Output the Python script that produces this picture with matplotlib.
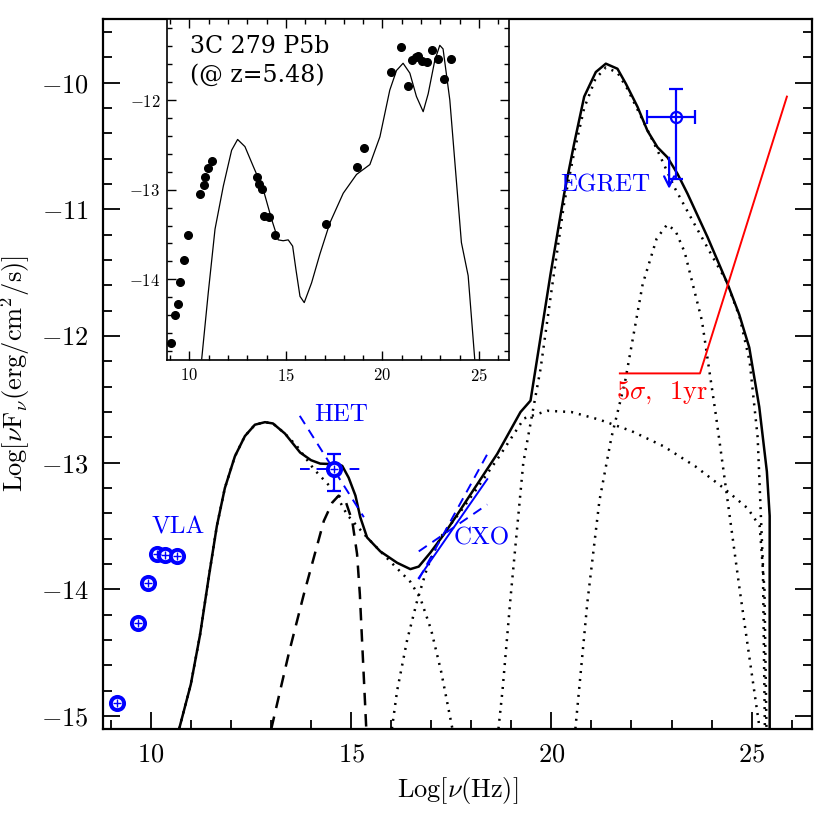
import numpy as np
import matplotlib
matplotlib.use("Agg")
import matplotlib.pyplot as plt
from matplotlib.ticker import MultipleLocator

plt.rcParams['font.family'] = 'serif'
plt.rcParams['font.serif'] = ['cmr10', 'DejaVu Serif']
plt.rcParams['mathtext.fontset'] = 'cm'
plt.rcParams['axes.formatter.use_mathtext'] = True
plt.rcParams['axes.unicode_minus'] = True

# ---- main panel: model curves (log nu, log nuFnu) ----
total_x = [10.71, 11.0, 11.23, 11.45, 11.65, 11.85, 12.1, 12.35, 12.6, 12.85, 13.05, 13.35, 13.73,
           14.0, 14.23, 14.45, 14.61, 14.78, 14.94, 15.11, 15.23, 15.40, 15.73, 16.15, 16.48, 16.69,
           16.98, 17.32, 17.65, 18.15, 18.65, 19.23, 19.48, 19.73, 19.98, 20.32, 20.57, 20.82,
           21.11, 21.36, 21.65, 21.86, 22.15, 22.40, 22.65, 22.90, 23.15, 23.40, 23.90, 24.40,
           24.69, 24.94, 25.19, 25.38, 25.45, 25.45]
total_y = [-15.1, -14.75, -14.36, -13.9, -13.5, -13.2, -12.95, -12.79, -12.7, -12.68, -12.69, -12.77,
           -12.92, -12.98, -13.007, -13.01, -13.004, -13.025, -13.118, -13.26, -13.43, -13.59, -13.70,
           -13.79, -13.84, -13.82, -13.71, -13.565, -13.41, -13.17, -12.93, -12.60, -12.51, -12.011,
           -11.51, -10.877, -10.48, -10.11, -9.916, -9.85, -9.89, -10.008, -10.19, -10.38, -10.51,
           -10.59, -10.72, -10.877, -11.22, -11.59, -11.83, -12.09, -12.56, -13.07, -13.42, -15.1]

sync_x = [10.71, 11.0, 11.23, 11.45, 11.65, 11.85, 12.1, 12.35, 12.6, 12.85, 13.05, 13.35, 13.65,
          14.07, 14.57, 14.90, 15.40, 15.98, 16.48, 16.73, 17.0, 17.25, 17.53]
sync_y = [-15.1, -14.75, -14.36, -13.9, -13.5, -13.2, -12.95, -12.79, -12.7, -12.68, -12.69, -12.77,
          -12.87, -13.05, -13.22, -13.41, -13.59, -13.78, -13.94, -14.07, -14.32, -14.65, -15.1]

disk_x = [13.01, 13.45, 13.82, 14.07, 14.32, 14.53, 14.69, 14.86, 15.03, 15.15, 15.22, 15.38]
disk_y = [-15.1, -14.5, -14.04, -13.75, -13.46, -13.315, -13.26, -13.30, -13.46, -13.72, -14.04, -15.1]

ssc_x = [16.02, 16.15, 16.4, 16.65, 16.9, 17.23, 17.7, 18.15, 18.7, 19.32, 19.9, 20.5, 21.2, 22.0,
         22.8, 23.6, 24.3, 24.9, 25.2, 25.32, 25.37]
ssc_y = [-15.1, -14.8, -14.4, -14.09, -13.83, -13.59, -13.4, -13.2, -12.95, -12.65, -12.59, -12.6,
         -12.66, -12.75, -12.87, -13.03, -13.2, -13.36, -13.5, -14.0, -15.1]

ec1_x = [18.68, 18.78, 18.98, 19.3, 19.73, 20.0, 20.32, 20.57, 20.82, 21.1, 21.36, 21.65, 21.9,
         22.24, 22.65, 23.07, 23.57, 24.07, 24.36, 24.7, 24.95, 25.15, 25.28, 25.33]
ec1_y = [-15.1, -14.8, -14.07, -13.0, -12.26, -11.65, -10.95, -10.55, -10.2, -9.97, -9.88, -9.92,
         -10.05, -10.27, -10.535, -10.825, -11.115, -11.40, -11.56, -11.85, -12.2, -12.8, -13.8, -15.1]

ec2_x = [20.6, 20.69, 20.9, 21.2, 21.5, 21.84, 22.28, 22.63, 22.89, 23.1, 23.33, 23.76, 24.11,
         24.4, 24.7, 24.95, 25.2]
ec2_y = [-15.1, -14.8, -14.1, -13.3, -12.8, -12.36, -11.59, -11.23, -11.12, -11.17, -11.34, -11.88,
         -12.63, -13.3, -14.0, -14.55, -15.1]

# ---- main panel: data ----
vla_x = [9.15, 9.69, 9.94, 10.165, 10.36, 10.65]
vla_y = [-14.896, -14.264, -13.948, -13.719, -13.729, -13.737]

het_x, het_y = 14.57, -13.05
het_ylo, het_yhi = -13.22, -12.93
het_band_x = [13.72, 15.32]
het_slope_y = [-12.63, -13.43]

cxo_x = [16.69, 18.40]
cxo_y = [-13.91, -13.13]
cxo_hi_x = [16.69, 18.44]
cxo_hi_y = [-13.92, -12.91]
cxo_lo_x = [16.69, 18.40]
cxo_lo_y = [-13.70, -13.33]

egret_x, egret_y = 23.11, -10.27
egret_xlo, egret_xhi = 22.39, 23.58
egret_ylo, egret_yhi = -10.76, -10.047
egret_ul_x, egret_ul_y0, egret_ul_y1 = 22.94, -10.57, -10.86

sens_x = [21.71, 23.71, 25.88]
sens_y = [-12.295, -12.295, -10.11]

# ---- inset: 3C 279 P5b shifted to z=5.48 ----
in_pts_x = [9.05, 9.26, 9.43, 9.53, 9.71, 9.95, 10.54, 10.74, 10.81, 10.95, 11.19, 13.50, 13.62, 13.76,
            13.88, 14.11, 14.45, 17.06, 18.68, 19.07, 20.42, 20.95, 21.30, 21.51, 21.73, 21.83,
            22.07, 22.33, 22.59, 22.90, 23.19, 23.54]
in_pts_y = [-14.71, -14.40, -14.28, -14.03, -13.78, -13.51, -13.05, -12.95, -12.86, -12.76, -12.68,
            -12.86, -12.94, -12.99, -13.29, -13.30, -13.51, -13.38, -12.75, -12.53, -11.69, -11.41,
            -11.84, -11.55, -11.52, -11.51, -11.56, -11.58, -11.44, -11.54, -11.76, -11.54]
in_mod_x = [10.64, 10.98, 11.33, 11.76, 12.19, 12.50, 12.88, 13.31, 13.83, 14.26, 14.60, 14.86, 15.12,
            15.35, 15.52, 15.73, 15.95, 16.33, 16.76, 17.28, 17.97, 18.66, 19.35, 19.87, 20.38,
            20.73, 21.07, 21.42, 21.76, 22.11, 22.37, 22.71, 22.97, 23.14, 23.49, 24.09, 24.44, 24.78]
in_mod_y = [-14.89, -14.15, -13.44, -12.96, -12.56, -12.44, -12.52, -12.74, -13.00, -13.33, -13.56,
            -13.57, -13.56, -13.63, -13.89, -14.19, -14.26, -14.04, -13.72, -13.37, -13.04, -12.83,
            -12.72, -12.41, -11.89, -11.67, -11.59, -11.70, -11.96, -12.13, -11.93, -11.56, -11.39,
            -11.43, -12.00, -13.59, -13.96, -14.89]

blue = '#0000ff'
red = '#ff0000'
dots = (0, (0.8, 2.4))
dashes = (0, (5, 3.5))

fig = plt.figure(figsize=(8.3, 8.3), dpi=100)
ax = fig.add_axes([0.1237, 0.122, 0.8543, 0.8547])

ax.plot(total_x, total_y, color='black', lw=1.8)
ax.plot(sync_x, sync_y, color='black', lw=1.8, ls=dots)
ax.plot(ssc_x, ssc_y, color='black', lw=1.8, ls=dots)
ax.plot(ec1_x, ec1_y, color='black', lw=1.8, ls=dots)
ax.plot(ec2_x, ec2_y, color='black', lw=1.8, ls=dots)
ax.plot(disk_x, disk_y, color='black', lw=1.8, ls=dashes)

# VLA
ax.plot(vla_x, vla_y, 'o', ms=9.5, mfc='white', mec=blue, mew=2.8)
ax.plot(vla_x, vla_y, '+', ms=6, mec=blue, mew=1.0)
ax.text(10.03, -13.51, 'VLA', color=blue, fontsize=18, ha='left', va='center')

# HET
ax.plot(het_band_x, [het_y, het_y], color=blue, lw=1.4, ls=dashes)
ax.plot(het_band_x, het_slope_y, color=blue, lw=1.4, ls=dashes)
ax.errorbar([het_x], [het_y], yerr=[[het_y - het_ylo], [het_yhi - het_y]], fmt='none',
            ecolor=blue, elinewidth=1.6, capsize=5, capthick=1.6)
ax.plot([het_x], [het_y], 'o', ms=9.5, mfc='white', mec=blue, mew=2.8)
ax.plot([het_x], [het_y], '+', ms=6, mec=blue, mew=1.0)
ax.text(14.07, -12.62, 'HET', color=blue, fontsize=18, ha='left', va='center')

# CXO bowtie
ax.plot(cxo_x, cxo_y, color=blue, lw=1.4)
ax.plot(cxo_hi_x, cxo_hi_y, color=blue, lw=1.4, ls=dashes)
ax.plot(cxo_lo_x, cxo_lo_y, color=blue, lw=1.4, ls=dashes)
ax.text(17.55, -13.60, 'CXO', color=blue, fontsize=18, ha='left', va='center')

# EGRET
ax.errorbar([egret_x], [egret_y], xerr=[[egret_x - egret_xlo], [egret_xhi - egret_x]],
            yerr=[[egret_y - egret_ylo], [egret_yhi - egret_y]], fmt='o', ms=8, mfc='none',
            mec=blue, mew=1.6, ecolor=blue, elinewidth=1.6, capsize=5, capthick=1.6)
ax.annotate('', xy=(egret_ul_x, egret_ul_y1), xytext=(egret_ul_x, egret_ul_y0),
            arrowprops=dict(arrowstyle='->', color=blue, lw=1.6, mutation_scale=18))
ax.text(22.48, -10.81, 'EGRET', color=blue, fontsize=18, ha='right', va='center')

# sensitivity
ax.plot(sens_x, sens_y, color=red, lw=1.4)
ax.text(22.75, -12.45, r'$5\sigma$,  1yr', color=red, fontsize=19, ha='center', va='center')

ax.set_xlim(8.8, 26.5)
ax.set_ylim(-15.1, -9.5)
ax.xaxis.set_major_locator(MultipleLocator(5))
ax.xaxis.set_minor_locator(MultipleLocator(1))
ax.yaxis.set_major_locator(MultipleLocator(1))
ax.yaxis.set_minor_locator(MultipleLocator(0.2))
ax.tick_params(which='both', direction='in', bottom=True, left=True, right=True, top=False,
               width=1.3, labelsize=19)
ax.tick_params(which='major', length=12.5, pad=10)
ax.tick_params(which='minor', length=6.3)
for s in ax.spines.values():
    s.set_linewidth(1.6)
ax.set_xlabel(r'$\mathrm{Log}[\nu(\mathrm{Hz})]$', fontsize=19, labelpad=6)
ax.set_ylabel(r'$\mathrm{Log}[\nu\mathrm{F}_\nu(\mathrm{erg/cm^2/s})]$', fontsize=19, labelpad=6)

# inset
ins = fig.add_axes([0.2016, 0.5663, 0.412, 0.4104])
ins.plot(in_mod_x, in_mod_y, color='black', lw=0.9)
ins.plot(in_pts_x, in_pts_y, 'o', color='black', ms=5.5)
ins.text(10.03, -11.40, '3C 279 P5b', fontsize=17, family='DejaVu Serif', ha='left', va='center')
ins.text(10.03, -11.72, '(@ z=5.48)', fontsize=17, family='DejaVu Serif', ha='left', va='center')
ins.set_xlim(8.86, 26.57)
ins.set_ylim(-14.9, -11.1)
ins.xaxis.set_major_locator(MultipleLocator(5))
ins.xaxis.set_minor_locator(MultipleLocator(1))
ins.yaxis.set_major_locator(MultipleLocator(1))
ins.yaxis.set_minor_locator(MultipleLocator(0.2))
ins.tick_params(which='both', direction='in', bottom=True, left=True, right=True, top=True,
                width=1.0, labelsize=12)
ins.tick_params(which='major', length=6.5, pad=5)
ins.tick_params(which='minor', length=3.6)
for s in ins.spines.values():
    s.set_linewidth(1.2)

fig.savefig('out.png', dpi=100)
